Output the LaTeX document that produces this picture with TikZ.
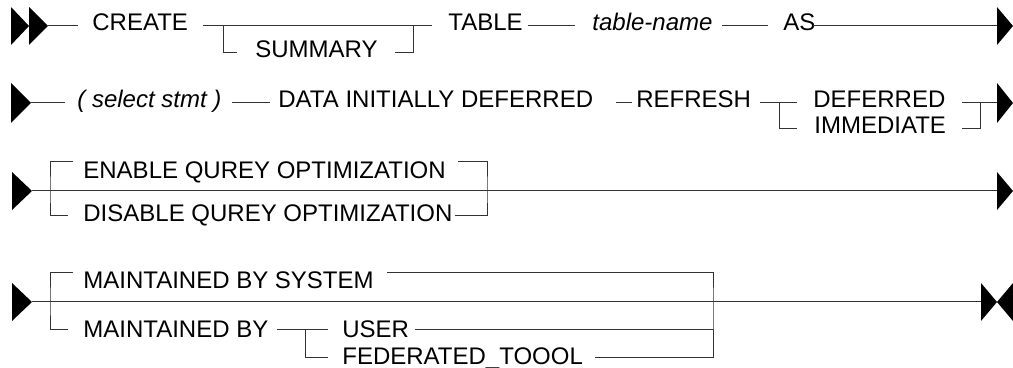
\documentclass[tikz,border=0pt]{standalone}
\usepackage{fontspec}
\setmainfont{Liberation Sans}
\begin{document}
\begin{tikzpicture}[x=0.5pt,y=-0.5pt,
  lbl/.style={anchor=base west,inner sep=0pt,font=\fontsize{12}{14}\selectfont},
  ilbl/.style={lbl,font=\fontsize{12}{14}\selectfont\itshape},
  rail/.style={draw=black!80,line width=0.5pt},
  tip/.style={fill=black}]
\useasboundingbox (0,0) rectangle (1013,368);

% ---------- Row 1 ----------
\fill[tip] (11,7) -- (29,26) -- (11,45) -- cycle;
\fill[tip] (29,7) -- (48,26) -- (29,45) -- cycle;
\coordinate (r1s) at (48,26);
\coordinate (r1a) at (78,26);
\node[lbl] (create) at (92,31) {CREATE};
\coordinate (r1b) at (203,26);
\coordinate (r1c) at (432,26);
\coordinate (r1sa) at (223,26);
\coordinate (r1sb) at (237,53);
\node[lbl] (summary) at (255,58) {SUMMARY};
\coordinate (r1sc) at (395,53);
\coordinate (r1sd) at (413,26);
\node[lbl] (table) at (448,31) {TABLE};
\coordinate (r1d) at (528,26);
\coordinate (r1e) at (575,26);
\node[ilbl] (tname) at (592,31) {table-name};
\coordinate (r1f) at (722,26);
\coordinate (r1g) at (768,26);
\node[lbl] (as) at (783,31) {AS};
\coordinate (r1h) at (813,26);
\coordinate (r1e2) at (997,26);
\fill[tip] (997,7) -- (1013,26) -- (997,45) -- cycle;
\draw[rail] (r1s) -- (r1a);
\draw[rail] (r1b) -- (r1c);
\draw[rail] (r1sa) |- (r1sb);
\draw[rail] (r1sc) -| (r1sd);
\draw[rail] (r1d) -- (r1e);
\draw[rail] (r1f) -- (r1g);
\draw[rail] (r1h) -- (r1e2);

% ---------- Row 2 ----------
\fill[tip] (11,83) -- (31,103) -- (11,123) -- cycle;
\coordinate (r2s) at (31,103);
\coordinate (r2a) at (65,103);
\node[ilbl] (select) at (77,108) {( select stmt )};
\coordinate (r2b) at (232,103);
\coordinate (r2c) at (270,103);
\node[lbl] (data) at (278,108) {DATA INITIALLY DEFERRED};
\coordinate (r2d) at (616,103);
\coordinate (r2e) at (632,103);
\node[lbl] (refresh) at (636,108) {REFRESH};
\coordinate (r2f) at (760,103);
\coordinate (r2g) at (797,103);
\coordinate (r2ba) at (779,103);
\coordinate (r2bb) at (797,129);
\node[lbl] (deferred) at (813,108) {DEFERRED};
\node[lbl] (immediate) at (814,134) {IMMEDIATE};
\coordinate (r2h) at (962,103);
\coordinate (r2e2) at (997,103);
\coordinate (r2i) at (962,129);
\coordinate (r2j) at (980,103);
\fill[tip] (997,83) -- (1013,103) -- (997,123) -- cycle;
\draw[rail] (r2s) -- (r2a);
\draw[rail] (r2b) -- (r2c);
\draw[rail] (r2d) -- (r2e);
\draw[rail] (r2f) -- (r2g);
\draw[rail] (r2ba) |- (r2bb);
\draw[rail] (r2h) -- (r2e2);
\draw[rail] (r2i) -| (r2j);

% ---------- Row 3 ----------
\fill[tip] (12,172) -- (32,191) -- (12,210) -- cycle;
\coordinate (r3s) at (32,191);
\coordinate (r3e) at (997,191);
\coordinate (r3lt) at (73,162);
\coordinate (r3lb) at (68,216);
\coordinate (r3lv) at (50,191);
\node[lbl] (enable) at (83,179) {ENABLE QUREY OPTIMIZATION};
\node[lbl] (disable) at (83,222) {DISABLE QUREY OPTIMIZATION};
\coordinate (r3rt) at (458,162);
\coordinate (r3rb) at (455,216);
\coordinate (r3rv) at (487,191);
\fill[tip] (997,172) -- (1013,191) -- (997,210) -- cycle;
\draw[rail] (r3s) -- (r3e);
\draw[rail] (r3lt) -| (r3lv) |- (r3lb);
\draw[rail] (r3rt) -| (r3rv) |- (r3rb);

% ---------- Row 4 ----------
\fill[tip] (12,283) -- (32,302) -- (12,321) -- cycle;
\coordinate (r4s) at (32,302);
\coordinate (r4e) at (981,302);
\coordinate (r4lt) at (73,273);
\coordinate (r4lb) at (68,330);
\coordinate (r4lv) at (50,302);
\node[lbl] (system) at (83,289) {MAINTAINED BY SYSTEM};
\coordinate (r4a) at (387,273);
\coordinate (r4rv) at (713,302);
\node[lbl] (mby) at (83,338) {MAINTAINED BY};
\coordinate (r4b) at (277,330);
\coordinate (r4c) at (328,330);
\coordinate (r4ba) at (305,330);
\coordinate (r4bb) at (328,358);
\node[lbl] (user) at (342,338) {USER};
\node[lbl] (fed) at (342,365) {FEDERATED\_TOOOL};
\coordinate (r4d) at (415,330);
\coordinate (r4f) at (595,358);
\coordinate (r4g) at (713,330);
\fill[tip] (981,283) -- (997,302) -- (981,321) -- cycle;
\fill[tip] (1013,283) -- (997,302) -- (1013,321) -- cycle;
\draw[rail] (r4s) -- (r4e);
\draw[rail] (r4lt) -| (r4lv) |- (r4lb);
\draw[rail] (r4a) -| (r4rv) |- (r4f);
\draw[rail] (r4b) -- (r4c);
\draw[rail] (r4ba) |- (r4bb);
\draw[rail] (r4d) -- (r4g);
\end{tikzpicture}
\end{document}
